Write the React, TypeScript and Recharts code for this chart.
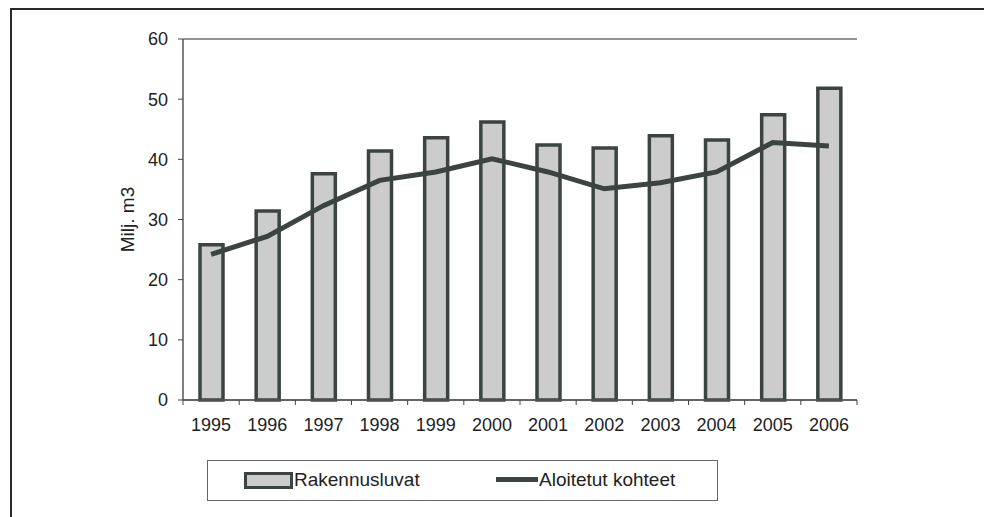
import React from 'react';
import { ComposedChart, Bar, Line, XAxis, YAxis, CartesianGrid, Legend } from 'recharts';

const years = ['1995', '1996', '1997', '1998', '1999', '2000', '2001', '2002', '2003', '2004', '2005', '2006'];
const rakennusluvat = [25.8, 31.4, 37.6, 41.4, 43.6, 46.2, 42.4, 41.9, 43.9, 43.2, 47.4, 51.8];
const aloitetut = [24.2, 27.2, 32.3, 36.5, 37.9, 40.1, 37.9, 35.1, 36.1, 37.9, 42.8, 42.2];
const yTicks = [0, 10, 20, 30, 40, 50, 60];

const data = years.map((y, i) => ({ year: y, rak: rakennusluvat[i], alo: aloitetut[i] }));

const FONT = '"Liberation Sans", Arial, sans-serif';
const DARK = '#3c4442';
const W = 976;
const H = 509;
const M = { top: 31, right: 127, bottom: 77, left: 100 };
const Y_W = 75;
const PLOT_W = W - M.left - Y_W - M.right;
const BAND = PLOT_W / years.length;
const X_MARGIN = 18;

const XTick = (props: any) => {
  const { x, y, payload, index } = props;
  const axisY = y - X_MARGIN;
  return (
    <g>
      <line x1={x - BAND / 2} y1={axisY} x2={x - BAND / 2} y2={axisY + 5} stroke="#444" strokeWidth={1} />
      {index === years.length - 1 && (
        <line x1={x + BAND / 2} y1={axisY} x2={x + BAND / 2} y2={axisY + 5} stroke="#444" strokeWidth={1} />
      )}
      <text x={x} y={y} dy="0.71em" textAnchor="middle" fill="#222" fontSize={18} fontFamily={FONT}>
        {payload.value}
      </text>
    </g>
  );
};

const LegendBox = (props: any) => {
  const payload = props.payload || [];
  const bar = payload.find((p: any) => p.dataKey === 'rak');
  const line = payload.find((p: any) => p.dataKey === 'alo');
  return (
    <div style={{ position: 'relative', width: 509, height: 39, border: '1px solid #666', background: '#fff', fontFamily: FONT, fontSize: 19, color: '#222' }}>
      <div style={{ position: 'absolute', left: 36, top: 11, width: 43, height: 11, background: '#cccccc', border: `3px solid ${DARK}` }} />
      <span style={{ position: 'absolute', left: 86, top: 8, lineHeight: '22px' }}>{bar ? bar.value : ''}</span>
      <div style={{ position: 'absolute', left: 288, top: 16, width: 42, height: 5, background: DARK }} />
      <span style={{ position: 'absolute', left: 331, top: 8, lineHeight: '22px' }}>{line ? line.value : ''}</span>
    </div>
  );
};

export default function App() {
  return (
    <div style={{ position: 'fixed', left: 0, top: 0, width: 984, height: 517, background: '#fff', overflow: 'hidden' }}>
      <div style={{ position: 'absolute', left: 10, top: 8, right: 0, bottom: 0, borderTop: '2px solid #2a2a2a', borderLeft: '2px solid #2a2a2a' }} />
      <div style={{ position: 'absolute', left: 8, top: 8, width: W, height: H }}>
        <ComposedChart width={W} height={H} data={data} margin={M}>
          <CartesianGrid vertical={false} stroke="#2a2a2a" strokeWidth={1} />
          <XAxis
            dataKey="year"
            xAxisId="0"
            height={40}
            tickLine={false}
            tickSize={0}
            tickMargin={X_MARGIN}
            axisLine={{ stroke: '#555', strokeWidth: 1.5 }}
            tick={<XTick />}
            interval={0}
          />
          <XAxis dataKey="year" xAxisId="top" orientation="top" height={0} tick={false} tickLine={false} axisLine={{ stroke: '#999', strokeWidth: 1.5 }} />
          <YAxis
            yAxisId="0"
            width={Y_W}
            domain={[0, 60]}
            ticks={yTicks}
            interval={0}
            tickSize={5}
            tickMargin={10}
            axisLine={{ stroke: '#555', strokeWidth: 1.5 }}
            tickLine={{ stroke: '#444' }}
            tick={{ fill: '#222', fontSize: 18, fontFamily: FONT }}
            label={{ value: 'Milj. m3', angle: -90, position: 'insideLeft', offset: 19, style: { textAnchor: 'middle', fill: '#222', fontSize: 19, fontFamily: FONT } }}
          />
          <YAxis yAxisId="right" orientation="right" width={0} domain={[0, 60]} tick={false} tickLine={false} axisLine={{ stroke: '#999', strokeWidth: 1.5 }} />
          <Bar dataKey="rak" name="Rakennusluvat" xAxisId="0" yAxisId="0" barSize={23} fill="#cccccc" stroke={DARK} strokeWidth={3.5} isAnimationActive={false} />
          <Line dataKey="alo" name="Aloitetut kohteet" xAxisId="0" yAxisId="0" type="linear" stroke={DARK} strokeWidth={5} dot={false} activeDot={false} isAnimationActive={false} />
          <Legend
            layout="horizontal"
            verticalAlign="middle"
            align="center"
            content={<LegendBox />}
            wrapperStyle={{ position: 'absolute', left: 199, top: 452, width: 511, height: 41 }}
          />
        </ComposedChart>
      </div>
    </div>
  );
}
